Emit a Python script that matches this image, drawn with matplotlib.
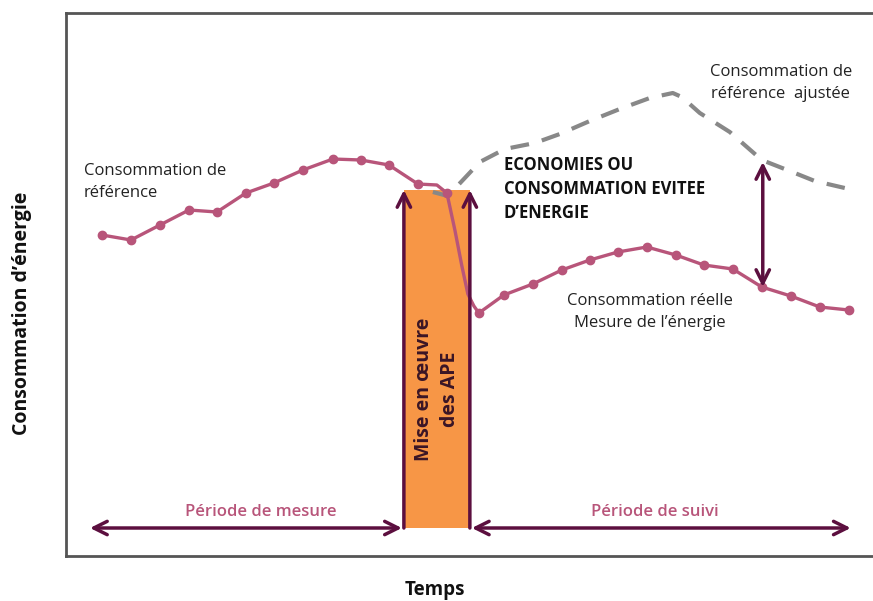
import matplotlib
matplotlib.use("Agg")
import matplotlib.pyplot as plt
import numpy as np

# ---- data (x: time units, y: energy units) ----
ref_x = [102, 131, 160, 189, 217, 246, 274, 303, 333, 361, 389, 418, 437, 447,
         455, 462, 468, 474, 479, 486, 504, 533, 562, 590, 618, 647, 676, 704,
         733, 762, 791, 820, 849]
ref_y = [321, 316, 331, 346, 344, 363, 373, 386, 397, 396, 391, 372, 371, 363,
         326, 290, 262, 250, 243, 248, 261, 272, 286, 296, 304, 309, 301, 291,
         287, 269, 260, 249, 246]
marker_idx = [0, 1, 2, 3, 4, 5, 6, 7, 8, 9, 10, 11, 13, 18, 20, 21, 22, 23, 24,
              25, 26, 27, 28, 29, 30, 31, 32]

adj_x = [433, 448, 480, 505, 535, 560, 590, 620, 650, 673, 682, 700, 730, 762,
         790, 815, 845]
adj_y = [364, 360, 394, 407, 413, 422, 435, 447, 458, 463, 459, 443, 424, 396,
         385, 375, 368]

bar_x0, bar_x1 = 404, 470
bar_bottom, bar_top = 28, 366
saving_x, saving_lo, saving_hi = 763, 269, 394
period_y = 28
meas_x = [90, 402]
follow_x = [472, 851]

line_col = "#B8557A"
arrow_col = "#5C0F3F"
orange = "#F79646"

plt.rcParams['font.family'] = ['Open Sans', 'DejaVu Sans']

fig = plt.figure(figsize=(8.73, 6.01), dpi=100)
ax = fig.add_axes([66 / 873, 45 / 601, 1 - 66 / 873 + 0.01, (556 - 13) / 601])
ax.set_xlim(66, 873 + 9)
ax.set_ylim(0, 543)
ax.set_xticks([])
ax.set_yticks([])
for s in ['left', 'top', 'bottom']:
    ax.spines[s].set_color('#555555')
    ax.spines[s].set_linewidth(2)
ax.spines['right'].set_visible(False)

# implementation bar
ax.add_patch(plt.Rectangle((bar_x0, bar_bottom), bar_x1 - bar_x0, bar_top - bar_bottom,
                           facecolor=orange, edgecolor='none', zorder=1))

# adjusted baseline (dashed)
ax.plot(adj_x, adj_y, color='#888888', lw=3, dashes=(4.5, 3.2), zorder=2,
        solid_capstyle='butt')

# reference + real consumption
ax.plot(ref_x, ref_y, color=line_col, lw=2.4, marker='o', markersize=6,
        markevery=marker_idx, zorder=3)

aprops = dict(arrowstyle='->', color=arrow_col, lw=2.5, mutation_scale=24,
              shrinkA=0, shrinkB=0)
dprops = dict(arrowstyle='<->', color=arrow_col, lw=2.5, mutation_scale=24,
              shrinkA=0, shrinkB=0)

# vertical arrows on bar edges
for xx in (bar_x0, bar_x1):
    ax.annotate('', xy=(xx, bar_top), xytext=(xx, bar_bottom), arrowprops=aprops, zorder=4)

# savings arrow
ax.annotate('', xy=(saving_x, saving_hi), xytext=(saving_x, saving_lo), arrowprops=dprops, zorder=4)

# period arrows
ax.annotate('', xy=(meas_x[1], period_y), xytext=(meas_x[0], period_y), arrowprops=dprops)
ax.annotate('', xy=(follow_x[1], period_y), xytext=(follow_x[0], period_y), arrowprops=dprops)

fs = 12
ax.text(84, 374, "Consommation de\nréférence", fontsize=fs, va='center', ha='left',
        linespacing=1.45, color='#222222')
ax.text(781, 473, "Consommation de\nréférence  ajustée", fontsize=fs, va='center',
        ha='center', linespacing=1.45, color='#222222')
ax.text(504, 367, "ECONOMIES OU\nCONSOMMATION EVITEE\nD\u2019ENERGIE", fontsize=fs,
        fontweight='bold', va='center', ha='left', linespacing=1.45, color='#111111')
ax.text(650, 244, "Consommation réelle\nMesure de l\u2019énergie", fontsize=fs,
        va='center', ha='center', linespacing=1.45, color='#222222')
ax.text(437, 167, "Mise en \u0153uvre\ndes APE", fontsize=14, fontweight='bold',
        rotation=90, va='center', ha='center', linespacing=1.4, color='#3A1526')
ax.text(261, 44, "Période de mesure", fontsize=fs, fontweight='semibold',
        va='center', ha='center', color=line_col)
ax.text(655, 44, "Période de suivi", fontsize=fs, fontweight='semibold',
        va='center', ha='center', color=line_col)

fig.text(435 / 873, 1 - 590 / 601, "Temps", fontsize=13.5, fontweight='bold',
         ha='center', va='center', color='#111111')
fig.text(22 / 873, 1 - 313 / 601, "Consommation d\u2019énergie", fontsize=14,
         fontweight='bold', rotation=90, ha='center', va='center', color='#111111')

fig.savefig("out.png", dpi=100)
